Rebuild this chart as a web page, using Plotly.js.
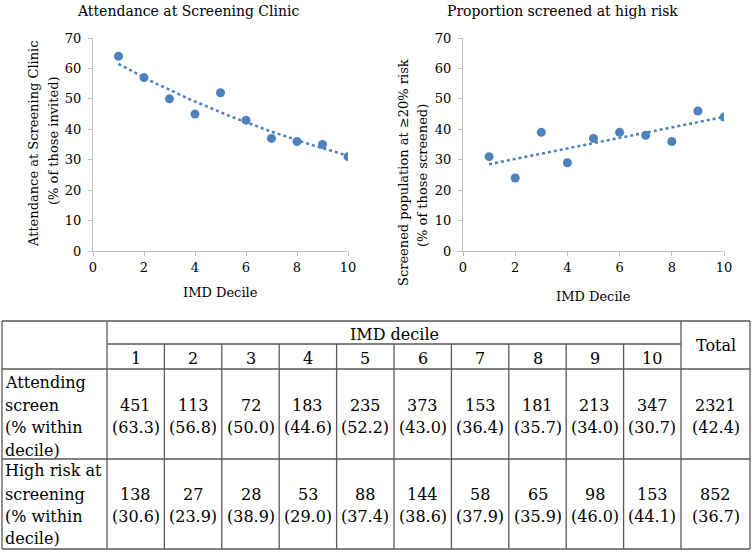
<!DOCTYPE html>
<html>
<head>
<meta charset="utf-8">
<script src="https://cdn.plot.ly/plotly-3.0.1.min.js"></script>
<style>html,body{margin:0;padding:0;background:#fff;}#chart{width:752px;height:552px;}</style>
</head>
<body>
<div id="chart"></div>
<script>
// ---- data ----
const deciles = [1, 2, 3, 4, 5, 6, 7, 8, 9, 10];
const attendancePct = [64, 57, 50, 45, 52, 43, 37, 36, 35, 31];
const highRiskPct = [31, 24, 39, 29, 37, 39, 38, 36, 46, 44];

const tableDeciles = ['1', '2', '3', '4', '5', '6', '7', '8', '9', '10'];
const attendN = [451, 113, 72, 183, 235, 373, 153, 181, 213, 347];
const attendTablePct = [63.3, 56.8, 50.0, 44.6, 52.2, 43.0, 36.4, 35.7, 34.0, 30.7];
const attendTotal = [2321, 42.4];
const highN = [138, 27, 28, 53, 88, 144, 58, 65, 98, 153];
const highTablePct = [30.6, 23.9, 38.9, 29.0, 37.4, 38.6, 37.9, 35.9, 46.0, 44.1];
const highTotal = [852, 36.7];
const rowLabels1 = ['Attending', 'screen', '(% within', 'decile)'];
const rowLabels2 = ['High risk at', 'screening', '(% within', 'decile)'];

// ---- trendlines (regressions of the plotted data) ----
function linFit(xs, ys) {
  const n = xs.length;
  const mx = xs.reduce((a, b) => a + b, 0) / n;
  const my = ys.reduce((a, b) => a + b, 0) / n;
  let sxy = 0, sxx = 0;
  for (let i = 0; i < n; i++) { sxy += (xs[i] - mx) * (ys[i] - my); sxx += (xs[i] - mx) ** 2; }
  const b = sxy / sxx;
  return { a: my - b * mx, b: b };
}
const expF = linFit(deciles, attendancePct.map(Math.log));
const linF = linFit(deciles, highRiskPct);
const tx = [];
for (let k = 0; k <= 90; k++) tx.push(deciles[0] + k * (deciles[deciles.length - 1] - deciles[0]) / 90);
const tExp = tx.map(x => Math.exp(expF.a + expF.b * x));
const tLin = tx.map(x => linF.a + linF.b * x);

// ---- layout helpers ----
const W = 752, H = 552;
const px = x => x / W;
const py = y => 1 - y / H;
const SERIF = 'DejaVu Serif';
const blue = '#4F81BD';
const axisCol = '#BFBFBF';

const traces = [
  { x: tx, y: tExp, xaxis: 'x', yaxis: 'y', mode: 'lines', line: { color: blue, width: 2.5, dash: 'dot' }, hoverinfo: 'skip', showlegend: false },
  { x: deciles, y: attendancePct, xaxis: 'x', yaxis: 'y', mode: 'markers', marker: { color: blue, size: 9 }, showlegend: false },
  { x: tx, y: tLin, xaxis: 'x2', yaxis: 'y2', mode: 'lines', line: { color: blue, width: 2.5, dash: 'dot' }, hoverinfo: 'skip', showlegend: false },
  { x: deciles, y: highRiskPct, xaxis: 'x2', yaxis: 'y2', mode: 'markers', marker: { color: blue, size: 9 }, showlegend: false }
];

function xAx(d0, d1, anchor) {
  return { domain: [px(d0), px(d1)], range: [0, 10], dtick: 2, tick0: 0, anchor: anchor,
    showline: true, linecolor: axisCol, linewidth: 1, ticks: 'outside', ticklen: 4, tickcolor: axisCol,
    showgrid: false, zeroline: false, fixedrange: true,
    tickfont: { family: SERIF, size: 13, color: '#000' } };
}
function yAx(anchor) {
  return { domain: [py(251), py(38)], range: [0, 70], dtick: 10, tick0: 0, anchor: anchor,
    showline: true, linecolor: axisCol, linewidth: 1, ticks: 'outside', ticklen: 4, tickcolor: axisCol,
    showgrid: false, zeroline: false, fixedrange: true, ticklabelstandoff: 4,
    tickfont: { family: SERIF, size: 13, color: '#000' } };
}

const ann = [];
function txt(t, x, y, size, opts) {
  ann.push(Object.assign({ text: t, x: px(x), y: py(y), xref: 'paper', yref: 'paper', showarrow: false,
    xanchor: 'center', yanchor: 'middle', font: { family: SERIF, size: size, color: '#000' } }, opts || {}));
}
// chart titles
txt('Attendance at Screening Clinic', 188, 11, 14);
txt('Proportion screened at high risk', 562, 11, 14);
// axis titles
txt('Attendance at Screening Clinic', 33, 144, 13, { textangle: -90 });
txt('(% of those invited)', 53, 141, 13, { textangle: -90 });
txt('Screened population at ≥20% risk', 404, 173, 13, { textangle: -90 });
txt('(% of those screened)', 423, 176, 13, { textangle: -90 });
txt('IMD Decile', 220, 292, 13);
txt('IMD Decile', 593, 297, 13);

// ---- table ----
const tL = 2, tR = 750, tTop = 321, tH1 = 344, tH2 = 369, tR1 = 459, tBot = 549;
const cFirst = 107, cTotal = 681;
const colW = (cTotal - cFirst) / tableDeciles.length;
const shapes = [];
const lineCol = '#595959';
function seg(x0, y0, x1, y1) {
  shapes.push({ type: 'line', xref: 'paper', yref: 'paper', x0: px(x0), y0: py(y0), x1: px(x1), y1: py(y1), line: { color: lineCol, width: 1.3 } });
}
[tTop, tH2, tR1, tBot].forEach(y => seg(tL, y, tR, y));
seg(cFirst, tH1, cTotal, tH1);
[tL, cFirst, cTotal, tR].forEach(x => seg(x, tTop, x, tBot));
for (let i = 1; i < tableDeciles.length; i++) seg(cFirst + i * colW, tH1, cFirst + i * colW, tBot);

txt('IMD decile', (cFirst + cTotal) / 2, 334, 16);
txt('Total', (cTotal + tR) / 2, 345, 16);
tableDeciles.forEach((d, i) => {
  const cx = cFirst + (i + 0.5) * colW;
  txt(d, cx, 358, 16);
  txt(String(attendN[i]), cx, 405, 16);
  txt('(' + attendTablePct[i].toFixed(1) + ')', cx, 427, 16);
  txt(String(highN[i]), cx, 494, 16);
  txt('(' + highTablePct[i].toFixed(1) + ')', cx, 516, 16);
});
const tcx = (cTotal + tR) / 2;
txt(String(attendTotal[0]), tcx, 405, 16);
txt('(' + attendTotal[1].toFixed(1) + ')', tcx, 427, 16);
txt(String(highTotal[0]), tcx, 494, 16);
txt('(' + highTotal[1].toFixed(1) + ')', tcx, 516, 16);
const r1y = [382, 405, 427, 450], r2y = [470, 494, 516, 538];
rowLabels1.forEach((t, i) => txt(t, 3, r1y[i], 16, { xanchor: 'left' }));
rowLabels2.forEach((t, i) => txt(t, 3, r2y[i], 16, { xanchor: 'left' }));

const layout = {
  width: W, height: H, autosize: false,
  margin: { l: 0, r: 0, t: 0, b: 0, pad: 0 },
  paper_bgcolor: '#fff', plot_bgcolor: '#fff',
  showlegend: false,
  xaxis: xAx(93, 348, 'y'), yaxis: yAx('x'),
  xaxis2: xAx(463, 724, 'y2'), yaxis2: yAx('x2'),
  annotations: ann, shapes: shapes
};
Plotly.newPlot('chart', traces, layout, { staticPlot: true, displayModeBar: false });
</script>
</body>
</html>
